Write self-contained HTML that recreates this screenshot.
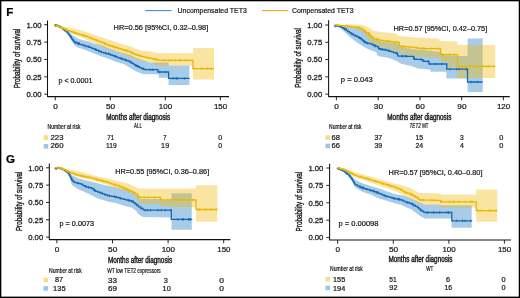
<!DOCTYPE html>
<html><head><meta charset="utf-8"><title>Figure</title>
<style>html,body{margin:0;padding:0;background:#fff;}svg{will-change:transform;}body{width:520px;height:298px;overflow:hidden;position:relative;font-family:"Liberation Sans", sans-serif;}</style>
</head><body>
<svg width="520" height="298" viewBox="0 0 520 298" style="position:absolute;left:0;top:0">
<g font-family='"Liberation Sans", sans-serif' stroke-linejoin="round">
<rect x="0" y="0" width="520" height="298" fill="#fff"/>
<polygon points="54.60,24.40 62.40,27.00 67.00,29.00 69.70,32.80 72.60,35.20 77.80,38.60 84.30,40.60 89.20,41.60 94.00,43.50 98.90,44.50 103.80,46.10 108.70,48.20 116.40,50.90 124.10,53.20 130.00,54.70 135.70,57.80 143.40,60.40 150.00,62.50 168.60,62.50 168.60,65.60 189.40,65.60 189.40,84.90 168.60,84.90 168.60,77.80 158.90,77.80 158.90,74.30 143.40,74.30 135.70,71.20 128.00,66.50 124.10,64.30 116.40,62.00 108.70,58.80 101.00,56.30 93.20,53.20 85.50,50.10 77.80,47.50 74.60,45.50 71.60,41.00 67.00,33.00 62.40,29.50 54.60,25.00" fill="rgb(20,117,193)" fill-opacity="0.37" stroke="none"/>
<polygon points="54.60,24.40 62.40,26.20 77.80,29.60 93.20,34.20 108.70,39.80 124.10,44.70 130.00,45.90 135.70,49.10 143.40,50.70 151.20,51.60 157.30,53.10 192.90,53.10 192.90,48.00 214.00,48.00 214.00,79.40 192.90,79.40 192.90,65.60 157.30,65.60 151.20,62.50 139.60,60.50 128.00,56.30 116.50,51.50 105.00,48.00 93.20,42.50 77.80,36.00 62.40,29.50 54.60,25.20" fill="rgb(241,182,0)" fill-opacity="0.37" stroke="none"/>
<circle cx="55.70" cy="25.60" r="1.2" fill="#1467B5"/>
<polyline points="54.60,24.70 54.60,25.00 56.40,25.00 56.40,25.60 58.20,25.60 58.20,26.20 60.00,26.20 60.00,26.50 60.00,27.40 62.40,27.40 62.40,28.30 62.40,28.80 63.70,28.80 63.70,29.80 65.00,29.80 65.00,30.30 65.00,30.85 66.25,30.85 66.25,31.95 67.50,31.95 67.50,32.50 67.50,33.17 68.60,33.17 68.60,34.53 69.70,34.53 69.70,35.20 69.70,35.93 70.67,35.93 70.67,37.40 71.63,37.40 71.63,38.87 72.60,38.87 72.60,39.60 72.60,40.20 73.60,40.20 73.60,41.40 74.60,41.40 74.60,42.00 74.60,42.50 77.05,42.50 77.05,43.50 79.50,43.50 79.50,44.00 79.50,44.38 81.90,44.38 81.90,45.12 84.30,45.12 84.30,45.50 84.30,45.85 86.75,45.85 86.75,46.55 89.20,46.55 89.20,46.90 89.20,47.40 91.60,47.40 91.60,48.40 94.00,48.40 94.00,48.90 94.00,49.38 96.45,49.38 96.45,50.32 98.90,50.32 98.90,50.80 98.90,51.30 101.35,51.30 101.35,52.30 103.80,52.30 103.80,52.80 103.80,53.07 106.20,53.07 106.20,53.62 108.60,53.62 108.60,53.90 108.60,54.26 110.55,54.26 110.55,54.99 112.50,54.99 112.50,55.71 114.45,55.71 114.45,56.44 116.40,56.44 116.40,56.80 116.40,57.14 118.33,57.14 118.33,57.81 120.25,57.81 120.25,58.49 122.17,58.49 122.17,59.16 124.10,59.16 124.10,59.50 124.10,59.83 126.07,59.83 126.07,60.50 128.03,60.50 128.03,61.17 130.00,61.17 130.00,61.50 130.00,62.13 131.90,62.13 131.90,63.40 133.80,63.40 133.80,64.67 135.70,64.67 135.70,65.30 135.70,65.77 137.62,65.77 137.62,66.72 139.55,66.72 139.55,67.67 141.47,67.67 141.47,68.62 143.40,68.62 143.40,69.10 143.40,69.25 144.95,69.25 144.95,69.55 146.50,69.55 146.50,69.70 157.90,69.70 157.90,72.00 168.60,72.00 168.60,78.40 189.60,78.40" fill="none" stroke="#1467B5" stroke-width="1.3" stroke-linejoin="miter" stroke-miterlimit="2"/>
<path d="M57.60,24.35v2.5 M64.45,28.55v2.5 M71.52,36.15v2.5 M75.90,41.25v2.5 M78.50,42.25v2.5 M79.00,42.25v2.5 M84.80,44.60v2.5 M89.06,45.30v2.5 M95.64,48.12v2.5 M99.13,50.05v2.5 M105.79,51.82v2.5 M108.47,52.38v2.5 M115.38,55.19v2.5 M121.72,57.24v2.5 M125.54,58.58v2.5 M130.34,60.88v2.5 M136.30,64.52v2.5 M138.34,65.47v2.5 M143.27,67.38v2.5 M150.21,68.45v2.5 M152.84,68.45v2.5 M159.76,70.75v2.5 M165.75,70.75v2.5 M173.00,77.15v2.5 M176.19,77.15v2.5 M177.43,77.15v2.5 M184.34,77.15v2.5" stroke="#1467B5" stroke-width="0.9" fill="none"/>
<polyline points="54.60,24.70 54.60,25.14 56.55,25.14 56.55,26.01 58.50,26.01 58.50,26.89 60.45,26.89 60.45,27.76 62.40,27.76 62.40,28.20 62.40,28.57 64.33,28.57 64.33,29.32 66.25,29.32 66.25,30.07 68.17,30.07 68.17,30.82 70.10,30.82 70.10,31.20 70.10,31.51 72.02,31.51 72.02,32.14 73.95,32.14 73.95,32.76 75.88,32.76 75.88,33.39 77.80,33.39 77.80,33.70 77.80,33.99 79.72,33.99 79.72,34.56 81.65,34.56 81.65,35.14 83.58,35.14 83.58,35.71 85.50,35.71 85.50,36.00 85.50,36.39 87.42,36.39 87.42,37.16 89.35,37.16 89.35,37.94 91.28,37.94 91.28,38.71 93.20,38.71 93.20,39.10 93.20,39.46 95.15,39.46 95.15,40.19 97.10,40.19 97.10,40.91 99.05,40.91 99.05,41.64 101.00,41.64 101.00,42.00 101.00,42.40 102.92,42.40 102.92,43.20 104.85,43.20 104.85,44.00 106.78,44.00 106.78,44.80 108.70,44.80 108.70,45.20 108.70,45.48 110.62,45.48 110.62,46.02 112.55,46.02 112.55,46.58 114.48,46.58 114.48,47.12 116.40,47.12 116.40,47.40 116.40,47.73 118.33,47.73 118.33,48.38 120.25,48.38 120.25,49.02 122.17,49.02 122.17,49.67 124.10,49.67 124.10,50.00 124.10,50.27 126.07,50.27 126.07,50.80 128.03,50.80 128.03,51.33 130.00,51.33 130.00,51.60 130.00,52.08 131.90,52.08 131.90,53.05 133.80,53.05 133.80,54.02 135.70,54.02 135.70,54.50 135.70,54.77 137.62,54.77 137.62,55.33 139.55,55.33 139.55,55.88 141.47,55.88 141.47,56.43 143.40,56.43 143.40,56.70 143.40,56.90 145.35,56.90 145.35,57.30 147.30,57.30 147.30,57.70 149.25,57.70 149.25,58.10 151.20,58.10 151.20,58.30 151.20,58.53 153.00,58.53 153.00,59.00 154.80,59.00 154.80,59.47 156.60,59.47 156.60,59.70 156.60,60.00 158.90,60.00 158.90,60.30 192.90,60.30 192.90,68.70 214.00,68.70" fill="none" stroke="#E7B800" stroke-width="1.3" stroke-linejoin="miter" stroke-miterlimit="2"/>
<path d="M57.60,24.76v2.5 M65.82,28.07v2.5 M66.42,28.82v2.5 M72.80,30.89v2.5 M74.57,31.51v2.5 M82.96,33.89v2.5 M83.59,34.46v2.5 M91.13,36.69v2.5 M97.08,38.94v2.5 M104.44,41.95v2.5 M112.94,45.33v2.5 M115.35,45.88v2.5 M118.56,47.12v2.5 M124.72,49.02v2.5 M127.47,49.55v2.5 M130.08,50.83v2.5 M132.40,51.80v2.5 M139.77,54.62v2.5 M147.26,56.05v2.5 M154.14,57.75v2.5 M156.43,58.22v2.5 M164.33,59.05v2.5 M168.92,59.05v2.5 M171.27,59.05v2.5 M175.42,59.05v2.5 M179.28,59.05v2.5 M180.41,59.05v2.5 M185.43,59.05v2.5 M188.80,59.05v2.5 M193.86,67.45v2.5 M201.80,67.45v2.5 M207.47,67.45v2.5 M211.21,67.45v2.5" stroke="#E7B800" stroke-width="0.9" fill="none"/>
<polygon points="334.40,25.20 340.00,26.20 345.00,26.80 350.00,27.40 354.00,28.10 359.00,28.60 362.00,29.50 364.00,31.00 367.00,33.00 369.00,34.50 371.00,37.00 374.00,39.30 377.00,40.30 380.00,41.00 386.00,42.20 391.00,42.50 396.00,43.30 399.50,44.00 400.00,46.20 414.50,49.60 429.00,50.60 440.00,52.00 446.00,55.30 457.50,56.00 467.60,56.00 467.60,38.60 482.70,38.60 482.70,91.90 467.60,91.90 467.60,78.60 446.40,78.60 446.40,71.80 431.00,71.80 430.00,69.50 418.00,68.40 411.00,66.00 401.00,63.80 398.00,61.70 393.00,59.40 388.00,57.70 378.00,56.00 376.00,52.00 370.00,50.00 365.00,47.50 360.00,44.50 355.00,41.00 350.00,37.00 345.00,32.50 340.00,28.00 334.40,25.50" fill="rgb(20,117,193)" fill-opacity="0.37" stroke="none"/>
<polygon points="334.40,24.40 360.00,24.40 364.00,25.40 369.00,27.50 373.50,31.00 378.00,31.60 384.00,32.30 396.00,33.50 399.00,36.00 415.00,37.50 438.60,38.50 440.50,41.00 457.50,41.50 457.50,45.00 495.20,45.00 495.20,77.90 457.50,77.90 457.50,67.50 446.50,67.50 446.50,62.00 440.50,62.00 440.50,58.50 429.00,57.40 414.50,56.40 405.00,55.00 395.00,51.00 386.00,47.50 378.00,47.00 372.00,44.00 368.00,40.00 364.00,33.00 360.00,29.50 352.00,28.00 345.00,26.80 334.40,25.60" fill="rgb(241,182,0)" fill-opacity="0.37" stroke="none"/>
<circle cx="335.50" cy="26.10" r="1.2" fill="#1467B5"/>
<polyline points="334.40,25.20 334.40,25.38 336.27,25.38 336.27,25.75 338.13,25.75 338.13,26.12 340.00,26.12 340.00,26.30 340.00,26.68 341.50,26.68 341.50,27.43 343.00,27.43 343.00,27.80 343.00,28.27 344.50,28.27 344.50,29.23 346.00,29.23 346.00,29.70 346.00,30.32 347.75,30.32 347.75,31.58 349.50,31.58 349.50,32.20 349.50,32.80 351.40,32.80 351.40,34.00 353.30,34.00 353.30,34.60 353.30,35.08 355.25,35.08 355.25,36.02 357.20,36.02 357.20,36.50 357.20,36.88 358.70,36.88 358.70,37.62 360.20,37.62 360.20,38.00 360.20,38.60 361.65,38.60 361.65,39.80 363.10,39.80 363.10,40.40 363.10,41.02 364.55,41.02 364.55,42.27 366.00,42.27 366.00,42.90 366.00,43.00 367.50,43.00 367.50,43.20 369.00,43.20 369.00,43.30 369.00,43.60 371.00,43.60 371.00,44.20 373.00,44.20 373.00,44.50 373.00,45.25 375.00,45.25 375.00,46.00 375.00,46.12 376.50,46.12 376.50,46.38 378.00,46.38 378.00,46.50 378.00,47.10 378.50,47.10 378.50,48.30 379.00,48.30 379.00,48.90 379.00,49.02 380.75,49.02 380.75,49.27 382.50,49.27 382.50,49.52 384.25,49.52 384.25,49.77 386.00,49.77 386.00,49.90 386.00,50.17 387.80,50.17 387.80,50.73 389.60,50.73 389.60,51.00 389.60,51.33 391.55,51.33 391.55,51.97 393.50,51.97 393.50,52.30 393.50,52.55 395.45,52.55 395.45,53.05 397.40,53.05 397.40,53.30 397.40,53.97 397.70,53.97 397.70,55.33 398.00,55.33 398.00,56.00 398.00,56.03 399.94,56.03 399.94,56.09 401.88,56.09 401.88,56.16 403.81,56.16 403.81,56.22 405.75,56.22 405.75,56.28 407.69,56.28 407.69,56.34 409.62,56.34 409.62,56.41 411.56,56.41 411.56,56.47 413.50,56.47 413.50,56.50 413.50,57.17 413.90,57.17 413.90,58.53 414.30,58.53 414.30,59.20 414.30,59.25 416.48,59.25 416.48,59.35 418.65,59.35 418.65,59.45 420.82,59.45 420.82,59.55 423.00,59.55 423.00,59.60 423.00,60.40 423.10,60.40 423.10,61.20 423.10,61.25 425.03,61.25 425.03,61.35 426.97,61.35 426.97,61.45 428.90,61.45 428.90,61.50 428.90,64.00 446.80,64.00 446.80,69.20 467.50,69.20 467.50,82.00 482.70,82.00" fill="none" stroke="#1467B5" stroke-width="1.3" stroke-linejoin="miter" stroke-miterlimit="2"/>
<path d="M337.40,24.50v2.5 M339.97,24.87v2.5 M345.95,27.98v2.5 M351.93,32.75v2.5 M359.22,36.38v2.5 M361.21,37.35v2.5 M363.55,39.77v2.5 M365.23,41.02v2.5 M367.53,41.95v2.5 M373.90,44.00v2.5 M375.44,44.88v2.5 M380.19,47.77v2.5 M382.41,48.02v2.5 M385.26,48.52v2.5 M389.22,49.48v2.5 M396.42,51.80v2.5 M401.78,54.84v2.5 M402.40,54.91v2.5 M405.11,54.97v2.5 M406.78,55.03v2.5 M414.25,57.28v2.5 M421.23,58.30v2.5 M428.18,60.20v2.5 M435.29,62.75v2.5 M441.75,62.75v2.5 M449.84,67.95v2.5 M456.69,67.95v2.5 M459.24,67.95v2.5 M466.54,67.95v2.5 M470.94,80.75v2.5 M477.48,80.75v2.5" stroke="#1467B5" stroke-width="0.9" fill="none"/>
<polyline points="334.40,25.00 334.40,25.07 336.27,25.07 336.27,25.20 338.13,25.20 338.13,25.33 340.00,25.33 340.00,25.40 340.00,25.55 342.50,25.55 342.50,25.85 345.00,25.85 345.00,26.00 345.00,26.15 347.50,26.15 347.50,26.45 350.00,26.45 350.00,26.60 350.00,26.73 352.00,26.73 352.00,26.98 354.00,26.98 354.00,27.10 354.00,27.20 356.00,27.20 356.00,27.40 358.00,27.40 358.00,27.60 360.00,27.60 360.00,27.70 360.00,28.60 362.90,28.60 362.90,29.50 362.90,30.07 364.35,30.07 364.35,31.23 365.80,31.23 365.80,31.80 365.80,32.65 368.70,32.65 368.70,33.50 368.70,34.23 370.10,34.23 370.10,35.67 371.50,35.67 371.50,36.40 371.50,36.98 372.95,36.98 372.95,38.12 374.40,38.12 374.40,38.70 374.40,39.15 377.30,39.15 377.30,39.60 377.30,39.85 380.20,39.85 380.20,40.10 380.20,40.40 383.10,40.40 383.10,40.70 383.10,40.80 385.03,40.80 385.03,41.00 386.97,41.00 386.97,41.20 388.90,41.20 388.90,41.30 388.90,41.41 390.67,41.41 390.67,41.64 392.45,41.64 392.45,41.86 394.23,41.86 394.23,42.09 396.00,42.09 396.00,42.20 396.00,42.25 397.65,42.25 397.65,42.35 399.30,42.35 399.30,42.40 399.30,45.80 399.30,45.92 401.20,45.92 401.20,46.15 403.10,46.15 403.10,46.38 405.00,46.38 405.00,46.50 405.00,46.62 407.50,46.62 407.50,46.88 410.00,46.88 410.00,47.00 410.00,47.15 412.50,47.15 412.50,47.45 415.00,47.45 415.00,47.60 415.00,47.83 417.50,47.83 417.50,48.27 420.00,48.27 420.00,48.50 420.00,48.51 422.05,48.51 422.05,48.53 424.10,48.53 424.10,48.55 426.15,48.55 426.15,48.57 428.20,48.57 428.20,48.59 430.25,48.59 430.25,48.61 432.30,48.61 432.30,48.63 434.35,48.63 434.35,48.65 436.40,48.65 436.40,48.67 438.45,48.67 438.45,48.69 440.50,48.69 440.50,48.70 440.50,54.60 440.50,54.61 442.62,54.61 442.62,54.62 444.75,54.62 444.75,54.63 446.88,54.63 446.88,54.64 449.00,54.64 449.00,54.66 451.12,54.66 451.12,54.67 453.25,54.67 453.25,54.68 455.38,54.68 455.38,54.69 457.50,54.69 457.50,54.70 457.50,66.40 495.20,66.40" fill="none" stroke="#E7B800" stroke-width="1.3" stroke-linejoin="miter" stroke-miterlimit="2"/>
<path d="M337.40,23.95v2.5 M345.57,24.90v2.5 M347.19,24.90v2.5 M347.88,25.20v2.5 M356.37,26.15v2.5 M358.34,26.35v2.5 M359.81,26.35v2.5 M365.52,29.98v2.5 M368.78,32.98v2.5 M376.40,37.90v2.5 M378.75,38.60v2.5 M386.93,39.75v2.5 M389.98,40.16v2.5 M395.29,40.84v2.5 M403.25,45.13v2.5 M409.23,45.62v2.5 M417.12,46.58v2.5 M423.29,47.28v2.5 M424.17,47.30v2.5 M431.73,47.36v2.5 M436.94,47.42v2.5 M439.93,47.44v2.5 M441.95,53.36v2.5 M449.25,53.41v2.5 M454.41,53.43v2.5 M462.41,65.15v2.5 M469.11,65.15v2.5 M477.29,65.15v2.5 M482.33,65.15v2.5 M488.41,65.15v2.5 M493.81,65.15v2.5" stroke="#E7B800" stroke-width="0.9" fill="none"/>
<polygon points="55.00,167.40 62.40,168.50 67.00,170.50 69.40,172.50 71.80,175.00 77.60,177.90 83.50,179.70 90.00,181.30 97.80,183.20 104.00,185.00 112.00,186.60 119.00,188.00 125.50,189.50 131.60,192.00 137.50,195.50 139.00,198.90 160.50,198.90 160.50,200.50 171.50,200.50 171.50,193.30 191.80,193.30 191.80,229.70 171.50,229.70 171.50,217.40 143.00,217.10 138.40,214.20 136.00,210.70 131.60,207.40 125.80,206.20 119.90,204.40 116.00,203.00 109.50,202.00 103.60,200.20 97.80,198.40 90.00,194.50 83.50,191.40 77.60,189.10 71.80,185.00 70.60,180.30 67.00,172.50 62.40,170.00 55.00,168.00" fill="rgb(20,117,193)" fill-opacity="0.37" stroke="none"/>
<polygon points="55.00,167.40 62.40,167.90 71.80,169.70 80.00,171.50 88.00,173.80 97.80,176.50 109.50,179.00 116.00,180.80 125.80,182.70 131.60,185.00 137.50,188.00 139.00,188.60 196.00,188.60 196.00,185.20 217.20,185.20 217.20,221.70 196.00,221.70 196.00,207.20 171.50,207.00 160.50,206.00 160.50,203.80 139.00,203.80 137.50,196.80 125.80,190.90 116.00,187.90 109.50,185.50 97.80,182.00 90.00,179.70 83.50,178.50 77.60,177.00 69.40,173.00 62.40,169.80 55.00,168.00" fill="rgb(241,182,0)" fill-opacity="0.37" stroke="none"/>
<circle cx="56.10" cy="168.60" r="1.2" fill="#1467B5"/>
<polyline points="55.00,167.70 55.00,167.75 57.50,167.75 57.50,167.85 60.00,167.85 60.00,167.90 60.00,168.50 62.35,168.50 62.35,169.70 64.70,169.70 64.70,170.30 64.70,170.88 66.45,170.88 66.45,172.03 68.20,172.03 68.20,172.60 68.20,173.30 69.00,173.30 69.00,174.70 69.80,174.70 69.80,176.10 70.60,176.10 70.60,176.80 70.60,177.53 71.20,177.53 71.20,178.97 71.80,178.97 71.80,179.70 71.80,180.27 72.95,180.27 72.95,181.43 74.10,181.43 74.10,182.00 74.10,182.30 75.85,182.30 75.85,182.90 77.60,182.90 77.60,183.20 77.60,183.35 79.40,183.35 79.40,183.65 81.20,183.65 81.20,183.80 81.20,184.40 82.95,184.40 82.95,185.60 84.70,185.60 84.70,186.20 84.70,186.47 86.45,186.47 86.45,187.03 88.20,187.03 88.20,187.30 88.20,187.45 90.05,187.45 90.05,187.75 91.90,187.75 91.90,187.90 91.90,188.62 93.65,188.62 93.65,190.08 95.40,190.08 95.40,190.80 95.40,191.25 97.75,191.25 97.75,192.15 100.10,192.15 100.10,192.60 100.10,193.03 102.45,193.03 102.45,193.88 104.80,193.88 104.80,194.30 104.80,194.75 107.15,194.75 107.15,195.65 109.50,195.65 109.50,196.10 109.50,196.22 111.67,196.22 111.67,196.45 113.83,196.45 113.83,196.68 116.00,196.68 116.00,196.80 116.00,197.10 117.95,197.10 117.95,197.70 119.90,197.70 119.90,198.00 119.90,198.28 121.87,198.28 121.87,198.85 123.83,198.85 123.83,199.42 125.80,199.42 125.80,199.70 125.80,199.90 127.73,199.90 127.73,200.30 129.67,200.30 129.67,200.70 131.60,200.70 131.60,200.90 131.60,201.50 133.40,201.50 133.40,202.70 135.20,202.70 135.20,203.30 135.20,203.98 136.80,203.98 136.80,205.32 138.40,205.32 138.40,206.00 138.40,206.85 140.70,206.85 140.70,207.70 140.70,208.30 143.00,208.30 143.00,208.90 143.00,209.55 144.20,209.55 144.20,210.20 171.30,210.20 171.30,219.30 192.20,219.30" fill="none" stroke="#1467B5" stroke-width="1.3" stroke-linejoin="miter" stroke-miterlimit="2"/>
<path d="M58.00,166.60v2.5 M65.75,169.62v2.5 M71.74,177.72v2.5 M78.37,182.10v2.5 M86.10,185.22v2.5 M88.68,186.20v2.5 M94.27,188.83v2.5 M102.01,191.78v2.5 M109.49,194.40v2.5 M114.57,195.43v2.5 M116.42,195.85v2.5 M120.22,197.03v2.5 M128.67,199.05v2.5 M129.99,199.45v2.5 M133.05,200.25v2.5 M141.15,207.05v2.5 M145.24,208.95v2.5 M147.41,208.95v2.5 M150.45,208.95v2.5 M158.21,208.95v2.5 M161.40,208.95v2.5 M165.32,208.95v2.5 M170.84,208.95v2.5 M177.78,218.05v2.5 M182.22,218.05v2.5 M183.37,218.05v2.5 M188.46,218.05v2.5 M189.24,218.05v2.5 M190.50,218.05v2.5" stroke="#1467B5" stroke-width="0.9" fill="none"/>
<polyline points="55.00,167.70 55.00,167.75 57.50,167.75 57.50,167.85 60.00,167.85 60.00,167.90 60.00,168.30 62.00,168.30 62.00,169.10 64.00,169.10 64.00,169.50 64.00,169.92 65.80,169.92 65.80,170.75 67.60,170.75 67.60,171.58 69.40,171.58 69.40,172.00 69.40,172.45 71.70,172.45 71.70,173.35 74.00,173.35 74.00,173.80 74.00,174.10 75.80,174.10 75.80,174.70 77.60,174.70 77.60,175.00 77.60,175.20 79.57,175.20 79.57,175.60 81.53,175.60 81.53,176.00 83.50,176.00 83.50,176.20 83.50,176.40 85.67,176.40 85.67,176.80 87.83,176.80 87.83,177.20 90.00,177.20 90.00,177.40 90.00,177.68 91.95,177.68 91.95,178.22 93.90,178.22 93.90,178.78 95.85,178.78 95.85,179.32 97.80,179.32 97.80,179.60 97.80,179.85 99.75,179.85 99.75,180.35 101.70,180.35 101.70,180.85 103.65,180.85 103.65,181.35 105.60,181.35 105.60,181.85 107.55,181.85 107.55,182.35 109.50,182.35 109.50,182.60 109.50,183.07 111.75,183.07 111.75,184.03 114.00,184.03 114.00,184.50 114.00,184.78 115.97,184.78 115.97,185.35 117.93,185.35 117.93,185.92 119.90,185.92 119.90,186.20 119.90,186.60 121.87,186.60 121.87,187.40 123.83,187.40 123.83,188.20 125.80,188.20 125.80,188.60 125.80,189.08 127.73,189.08 127.73,190.05 129.67,190.05 129.67,191.02 131.60,191.02 131.60,191.50 131.60,191.97 133.57,191.97 133.57,192.90 135.53,192.90 135.53,193.83 137.50,193.83 137.50,194.30 137.50,195.05 137.95,195.05 137.95,196.55 138.40,196.55 138.40,197.30 160.40,197.30 160.40,199.90 196.00,199.90 196.00,209.50 217.20,209.50" fill="none" stroke="#E7B800" stroke-width="1.3" stroke-linejoin="miter" stroke-miterlimit="2"/>
<path d="M58.00,166.60v2.5 M62.88,167.85v2.5 M66.15,169.50v2.5 M73.41,172.10v2.5 M76.22,173.45v2.5 M80.80,174.35v2.5 M84.05,175.15v2.5 M87.88,175.95v2.5 M96.17,178.07v2.5 M97.50,178.07v2.5 M101.55,179.10v2.5 M103.85,180.10v2.5 M107.15,180.60v2.5 M115.64,183.53v2.5 M118.77,184.67v2.5 M124.14,186.95v2.5 M127.99,188.80v2.5 M134.34,191.65v2.5 M138.41,196.05v2.5 M140.28,196.05v2.5 M144.25,196.05v2.5 M148.01,196.05v2.5 M154.86,196.05v2.5 M159.86,196.05v2.5 M161.93,198.65v2.5 M167.82,198.65v2.5 M170.71,198.65v2.5 M175.30,198.65v2.5 M177.56,198.65v2.5 M181.35,198.65v2.5 M188.13,198.65v2.5 M192.76,198.65v2.5 M199.28,208.25v2.5 M205.83,208.25v2.5 M211.03,208.25v2.5 M216.69,208.25v2.5" stroke="#E7B800" stroke-width="0.9" fill="none"/>
<polygon points="337.40,167.60 344.40,170.50 350.50,174.40 355.20,179.80 362.90,183.60 370.60,185.90 378.30,188.30 393.80,193.70 405.00,196.10 411.20,198.40 417.40,201.50 420.40,203.00 425.10,204.60 440.60,204.60 440.60,205.30 471.70,205.30 471.70,227.70 451.60,227.70 451.60,218.50 425.10,218.50 420.40,216.20 411.20,209.20 405.00,206.90 401.50,205.00 393.80,202.90 378.30,198.30 370.60,194.40 362.90,192.10 355.20,187.50 350.50,178.20 344.40,172.50 337.40,168.30" fill="rgb(20,117,193)" fill-opacity="0.37" stroke="none"/>
<polygon points="337.40,167.60 344.40,168.50 350.50,170.50 356.70,172.80 362.90,174.40 378.30,178.70 393.80,183.60 405.00,186.00 411.20,188.40 419.70,193.00 440.60,193.40 440.60,194.50 476.20,194.50 476.20,189.40 497.20,189.40 497.20,221.80 476.20,221.80 476.20,207.60 440.60,207.60 440.60,205.00 419.70,204.00 409.20,197.50 405.00,196.00 393.80,190.60 378.30,185.20 362.90,179.80 356.70,178.20 350.50,175.10 337.40,168.30" fill="rgb(241,182,0)" fill-opacity="0.37" stroke="none"/>
<circle cx="338.50" cy="168.80" r="1.2" fill="#1467B5"/>
<polyline points="337.40,167.90 337.40,168.33 339.15,168.33 339.15,169.18 340.90,169.18 340.90,170.03 342.65,170.03 342.65,170.88 344.40,170.88 344.40,171.30 344.40,171.93 345.93,171.93 345.93,173.20 347.47,173.20 347.47,174.47 349.00,174.47 349.00,175.10 349.00,175.75 350.03,175.75 350.03,177.05 351.07,177.05 351.07,178.35 352.10,178.35 352.10,179.00 352.10,179.68 352.88,179.68 352.88,181.03 353.65,181.03 353.65,182.38 354.43,182.38 354.43,183.72 355.20,183.72 355.20,184.40 355.20,184.97 357.50,184.97 357.50,186.12 359.80,186.12 359.80,186.70 359.80,187.08 361.87,187.08 361.87,187.85 363.93,187.85 363.93,188.62 366.00,188.62 366.00,189.00 366.00,189.27 368.07,189.27 368.07,189.80 370.13,189.80 370.13,190.33 372.20,190.33 372.20,190.60 372.20,190.98 374.23,190.98 374.23,191.75 376.27,191.75 376.27,192.52 378.30,192.52 378.30,192.90 378.30,193.29 380.25,193.29 380.25,194.06 382.20,194.06 382.20,194.84 384.15,194.84 384.15,195.61 386.10,195.61 386.10,196.00 386.10,196.29 388.03,196.29 388.03,196.86 389.95,196.86 389.95,197.44 391.88,197.44 391.88,198.01 393.80,198.01 393.80,198.30 393.80,198.49 395.73,198.49 395.73,198.86 397.65,198.86 397.65,199.24 399.57,199.24 399.57,199.61 401.50,199.61 401.50,199.80 401.50,200.23 403.25,200.23 403.25,201.07 405.00,201.07 405.00,201.50 405.00,201.83 407.07,201.83 407.07,202.50 409.13,202.50 409.13,203.17 411.20,203.17 411.20,203.50 411.20,204.07 413.27,204.07 413.27,205.20 415.33,205.20 415.33,206.33 417.40,206.33 417.40,206.90 417.40,207.53 418.93,207.53 418.93,208.80 420.47,208.80 420.47,210.07 422.00,210.07 422.00,210.70 422.00,211.15 423.55,211.15 423.55,212.05 425.10,212.05 425.10,212.50 451.80,212.50 451.80,220.80 472.20,220.80" fill="none" stroke="#1467B5" stroke-width="1.3" stroke-linejoin="miter" stroke-miterlimit="2"/>
<path d="M340.40,167.93v2.5 M346.09,171.95v2.5 M352.20,178.43v2.5 M360.36,185.83v2.5 M362.43,186.60v2.5 M363.45,186.60v2.5 M370.54,189.08v2.5 M373.71,189.73v2.5 M377.19,191.27v2.5 M384.21,194.36v2.5 M386.17,195.04v2.5 M393.95,197.24v2.5 M398.38,197.99v2.5 M399.45,197.99v2.5 M407.29,201.25v2.5 M412.38,202.82v2.5 M413.51,203.95v2.5 M420.72,208.82v2.5 M427.41,211.25v2.5 M433.84,211.25v2.5 M439.60,211.25v2.5 M448.04,211.25v2.5 M448.63,211.25v2.5 M456.93,219.55v2.5 M462.57,219.55v2.5 M465.09,219.55v2.5 M470.49,219.55v2.5" stroke="#1467B5" stroke-width="0.9" fill="none"/>
<polyline points="337.40,167.90 337.40,168.12 339.15,168.12 339.15,168.57 340.90,168.57 340.90,169.03 342.65,169.03 342.65,169.47 344.40,169.47 344.40,169.70 344.40,170.22 346.43,170.22 346.43,171.25 348.47,171.25 348.47,172.28 350.50,172.28 350.50,172.80 350.50,173.32 352.57,173.32 352.57,174.35 354.63,174.35 354.63,175.38 356.70,175.38 356.70,175.90 356.70,176.15 358.77,176.15 358.77,176.65 360.83,176.65 360.83,177.15 362.90,177.15 362.90,177.40 362.90,177.70 364.82,177.70 364.82,178.30 366.75,178.30 366.75,178.90 368.68,178.90 368.68,179.50 370.60,179.50 370.60,179.80 370.60,180.09 372.53,180.09 372.53,180.66 374.45,180.66 374.45,181.24 376.38,181.24 376.38,181.81 378.30,181.81 378.30,182.10 378.30,182.39 380.25,182.39 380.25,182.96 382.20,182.96 382.20,183.54 384.15,183.54 384.15,184.11 386.10,184.11 386.10,184.40 386.10,184.69 388.03,184.69 388.03,185.26 389.95,185.26 389.95,185.84 391.88,185.84 391.88,186.41 393.80,186.41 393.80,186.70 393.80,187.09 395.73,187.09 395.73,187.86 397.65,187.86 397.65,188.64 399.57,188.64 399.57,189.41 401.50,189.41 401.50,189.80 401.50,190.40 403.25,190.40 403.25,191.60 405.00,191.60 405.00,192.20 405.00,192.53 407.07,192.53 407.07,193.20 409.13,193.20 409.13,193.87 411.20,193.87 411.20,194.20 411.20,194.77 413.27,194.77 413.27,195.90 415.33,195.90 415.33,197.03 417.40,197.03 417.40,197.60 417.40,198.20 418.55,198.20 418.55,199.40 419.70,199.40 419.70,200.00 419.70,200.02 421.79,200.02 421.79,200.06 423.88,200.06 423.88,200.10 425.97,200.10 425.97,200.14 428.06,200.14 428.06,200.18 430.15,200.18 430.15,200.22 432.24,200.22 432.24,200.26 434.33,200.26 434.33,200.30 436.42,200.30 436.42,200.34 438.51,200.34 438.51,200.38 440.60,200.38 440.60,200.40 440.60,201.80 476.20,201.80 476.20,210.70 497.20,210.70" fill="none" stroke="#E7B800" stroke-width="1.3" stroke-linejoin="miter" stroke-miterlimit="2"/>
<path d="M340.40,167.32v2.5 M343.53,168.22v2.5 M351.90,172.07v2.5 M360.07,175.40v2.5 M367.92,177.65v2.5 M374.74,179.99v2.5 M382.24,182.29v2.5 M382.74,182.29v2.5 M388.25,184.01v2.5 M390.74,184.59v2.5 M397.08,186.61v2.5 M401.04,188.16v2.5 M406.02,191.28v2.5 M410.86,192.62v2.5 M415.97,195.78v2.5 M423.09,198.81v2.5 M431.44,198.97v2.5 M434.71,199.05v2.5 M441.66,200.55v2.5 M449.27,200.55v2.5 M452.91,200.55v2.5 M454.39,200.55v2.5 M458.87,200.55v2.5 M465.49,200.55v2.5 M470.18,200.55v2.5 M472.16,200.55v2.5 M478.30,209.45v2.5 M481.40,209.45v2.5 M488.99,209.45v2.5 M490.84,209.45v2.5 M496.09,209.45v2.5" stroke="#E7B800" stroke-width="0.9" fill="none"/>
<path d="M47.5,20.4 V96.6 H229.0" fill="none" stroke="#111" stroke-width="1.05"/>
<line x1="44.2" y1="24.70" x2="47.5" y2="24.70" stroke="#111" stroke-width="0.9"/>
<text x="41.5" y="27.55" font-size="7.9" text-anchor="end" textLength="15.0" lengthAdjust="spacingAndGlyphs" fill="#1a1a1a" stroke="#1a1a1a" stroke-width="0.28">1.00</text>
<line x1="44.2" y1="42.08" x2="47.5" y2="42.08" stroke="#111" stroke-width="0.9"/>
<text x="41.5" y="44.93" font-size="7.9" text-anchor="end" textLength="15.0" lengthAdjust="spacingAndGlyphs" fill="#1a1a1a" stroke="#1a1a1a" stroke-width="0.28">0.75</text>
<line x1="44.2" y1="59.45" x2="47.5" y2="59.45" stroke="#111" stroke-width="0.9"/>
<text x="41.5" y="62.30" font-size="7.9" text-anchor="end" textLength="15.0" lengthAdjust="spacingAndGlyphs" fill="#1a1a1a" stroke="#1a1a1a" stroke-width="0.28">0.50</text>
<line x1="44.2" y1="76.83" x2="47.5" y2="76.83" stroke="#111" stroke-width="0.9"/>
<text x="41.5" y="79.67" font-size="7.9" text-anchor="end" textLength="15.0" lengthAdjust="spacingAndGlyphs" fill="#1a1a1a" stroke="#1a1a1a" stroke-width="0.28">0.25</text>
<line x1="44.2" y1="94.20" x2="47.5" y2="94.20" stroke="#111" stroke-width="0.9"/>
<text x="41.5" y="97.05" font-size="7.9" text-anchor="end" textLength="15.0" lengthAdjust="spacingAndGlyphs" fill="#1a1a1a" stroke="#1a1a1a" stroke-width="0.28">0.00</text>
<line x1="55.3" y1="96.6" x2="55.3" y2="100.3" stroke="#111" stroke-width="0.9"/>
<text x="55.50" y="108.70" font-size="7.3" text-anchor="middle" textLength="4.6" lengthAdjust="spacingAndGlyphs" fill="#1a1a1a" stroke="#1a1a1a" stroke-width="0.22">0</text>
<line x1="110.3" y1="96.6" x2="110.3" y2="100.3" stroke="#111" stroke-width="0.9"/>
<text x="110.50" y="108.70" font-size="7.3" text-anchor="middle" textLength="9.2" lengthAdjust="spacingAndGlyphs" fill="#1a1a1a" stroke="#1a1a1a" stroke-width="0.22">50</text>
<line x1="165.3" y1="96.6" x2="165.3" y2="100.3" stroke="#111" stroke-width="0.9"/>
<text x="165.50" y="108.70" font-size="7.3" text-anchor="middle" textLength="13.3" lengthAdjust="spacingAndGlyphs" fill="#1a1a1a" stroke="#1a1a1a" stroke-width="0.22">100</text>
<line x1="220.35" y1="96.6" x2="220.35" y2="100.3" stroke="#111" stroke-width="0.9"/>
<text x="220.55" y="108.70" font-size="7.3" text-anchor="middle" textLength="13.3" lengthAdjust="spacingAndGlyphs" fill="#1a1a1a" stroke="#1a1a1a" stroke-width="0.22">150</text>
<path d="M328.6,20.3 V96.6 H509.8" fill="none" stroke="#111" stroke-width="1.05"/>
<line x1="325.3" y1="25.00" x2="328.6" y2="25.00" stroke="#111" stroke-width="0.9"/>
<text x="322.2" y="27.85" font-size="7.9" text-anchor="end" textLength="15.0" lengthAdjust="spacingAndGlyphs" fill="#1a1a1a" stroke="#1a1a1a" stroke-width="0.28">1.00</text>
<line x1="325.3" y1="42.27" x2="328.6" y2="42.27" stroke="#111" stroke-width="0.9"/>
<text x="322.2" y="45.12" font-size="7.9" text-anchor="end" textLength="15.0" lengthAdjust="spacingAndGlyphs" fill="#1a1a1a" stroke="#1a1a1a" stroke-width="0.28">0.75</text>
<line x1="325.3" y1="59.55" x2="328.6" y2="59.55" stroke="#111" stroke-width="0.9"/>
<text x="322.2" y="62.40" font-size="7.9" text-anchor="end" textLength="15.0" lengthAdjust="spacingAndGlyphs" fill="#1a1a1a" stroke="#1a1a1a" stroke-width="0.28">0.50</text>
<line x1="325.3" y1="76.82" x2="328.6" y2="76.82" stroke="#111" stroke-width="0.9"/>
<text x="322.2" y="79.67" font-size="7.9" text-anchor="end" textLength="15.0" lengthAdjust="spacingAndGlyphs" fill="#1a1a1a" stroke="#1a1a1a" stroke-width="0.28">0.25</text>
<line x1="325.3" y1="94.10" x2="328.6" y2="94.10" stroke="#111" stroke-width="0.9"/>
<text x="322.2" y="96.95" font-size="7.9" text-anchor="end" textLength="15.0" lengthAdjust="spacingAndGlyphs" fill="#1a1a1a" stroke="#1a1a1a" stroke-width="0.28">0.00</text>
<line x1="336.4" y1="96.6" x2="336.4" y2="100.3" stroke="#111" stroke-width="0.9"/>
<text x="336.60" y="108.60" font-size="7.3" text-anchor="middle" textLength="4.6" lengthAdjust="spacingAndGlyphs" fill="#1a1a1a" stroke="#1a1a1a" stroke-width="0.22">0</text>
<line x1="378.2" y1="96.6" x2="378.2" y2="100.3" stroke="#111" stroke-width="0.9"/>
<text x="378.40" y="108.60" font-size="7.3" text-anchor="middle" textLength="9.2" lengthAdjust="spacingAndGlyphs" fill="#1a1a1a" stroke="#1a1a1a" stroke-width="0.22">30</text>
<line x1="420.0" y1="96.6" x2="420.0" y2="100.3" stroke="#111" stroke-width="0.9"/>
<text x="420.20" y="108.60" font-size="7.3" text-anchor="middle" textLength="9.2" lengthAdjust="spacingAndGlyphs" fill="#1a1a1a" stroke="#1a1a1a" stroke-width="0.22">60</text>
<line x1="461.7" y1="96.6" x2="461.7" y2="100.3" stroke="#111" stroke-width="0.9"/>
<text x="461.90" y="108.60" font-size="7.3" text-anchor="middle" textLength="9.2" lengthAdjust="spacingAndGlyphs" fill="#1a1a1a" stroke="#1a1a1a" stroke-width="0.22">90</text>
<line x1="503.4" y1="96.6" x2="503.4" y2="100.3" stroke="#111" stroke-width="0.9"/>
<text x="503.60" y="108.60" font-size="7.3" text-anchor="middle" textLength="13.3" lengthAdjust="spacingAndGlyphs" fill="#1a1a1a" stroke="#1a1a1a" stroke-width="0.22">120</text>
<path d="M49.3,163.4 V239.6 H230.4" fill="none" stroke="#111" stroke-width="1.05"/>
<line x1="46.0" y1="167.80" x2="49.3" y2="167.80" stroke="#111" stroke-width="0.9"/>
<text x="43.2" y="170.65" font-size="7.9" text-anchor="end" textLength="15.0" lengthAdjust="spacingAndGlyphs" fill="#1a1a1a" stroke="#1a1a1a" stroke-width="0.28">1.00</text>
<line x1="46.0" y1="185.12" x2="49.3" y2="185.12" stroke="#111" stroke-width="0.9"/>
<text x="43.2" y="187.97" font-size="7.9" text-anchor="end" textLength="15.0" lengthAdjust="spacingAndGlyphs" fill="#1a1a1a" stroke="#1a1a1a" stroke-width="0.28">0.75</text>
<line x1="46.0" y1="202.45" x2="49.3" y2="202.45" stroke="#111" stroke-width="0.9"/>
<text x="43.2" y="205.30" font-size="7.9" text-anchor="end" textLength="15.0" lengthAdjust="spacingAndGlyphs" fill="#1a1a1a" stroke="#1a1a1a" stroke-width="0.28">0.50</text>
<line x1="46.0" y1="219.78" x2="49.3" y2="219.78" stroke="#111" stroke-width="0.9"/>
<text x="43.2" y="222.62" font-size="7.9" text-anchor="end" textLength="15.0" lengthAdjust="spacingAndGlyphs" fill="#1a1a1a" stroke="#1a1a1a" stroke-width="0.28">0.25</text>
<line x1="46.0" y1="237.10" x2="49.3" y2="237.10" stroke="#111" stroke-width="0.9"/>
<text x="43.2" y="239.95" font-size="7.9" text-anchor="end" textLength="15.0" lengthAdjust="spacingAndGlyphs" fill="#1a1a1a" stroke="#1a1a1a" stroke-width="0.28">0.00</text>
<line x1="56.9" y1="239.6" x2="56.9" y2="243.29999999999998" stroke="#111" stroke-width="0.9"/>
<text x="57.10" y="251.60" font-size="7.3" text-anchor="middle" textLength="4.6" lengthAdjust="spacingAndGlyphs" fill="#1a1a1a" stroke="#1a1a1a" stroke-width="0.22">0</text>
<line x1="112.5" y1="239.6" x2="112.5" y2="243.29999999999998" stroke="#111" stroke-width="0.9"/>
<text x="112.70" y="251.60" font-size="7.3" text-anchor="middle" textLength="9.2" lengthAdjust="spacingAndGlyphs" fill="#1a1a1a" stroke="#1a1a1a" stroke-width="0.22">50</text>
<line x1="168.1" y1="239.6" x2="168.1" y2="243.29999999999998" stroke="#111" stroke-width="0.9"/>
<text x="168.30" y="251.60" font-size="7.3" text-anchor="middle" textLength="13.3" lengthAdjust="spacingAndGlyphs" fill="#1a1a1a" stroke="#1a1a1a" stroke-width="0.22">100</text>
<line x1="223.7" y1="239.6" x2="223.7" y2="243.29999999999998" stroke="#111" stroke-width="0.9"/>
<text x="223.90" y="251.60" font-size="7.3" text-anchor="middle" textLength="13.3" lengthAdjust="spacingAndGlyphs" fill="#1a1a1a" stroke="#1a1a1a" stroke-width="0.22">150</text>
<path d="M329.6,163.8 V240.0 H511.0" fill="none" stroke="#111" stroke-width="1.05"/>
<line x1="326.3" y1="168.00" x2="329.6" y2="168.00" stroke="#111" stroke-width="0.9"/>
<text x="323.4" y="170.85" font-size="7.9" text-anchor="end" textLength="15.0" lengthAdjust="spacingAndGlyphs" fill="#1a1a1a" stroke="#1a1a1a" stroke-width="0.28">1.00</text>
<line x1="326.3" y1="185.40" x2="329.6" y2="185.40" stroke="#111" stroke-width="0.9"/>
<text x="323.4" y="188.25" font-size="7.9" text-anchor="end" textLength="15.0" lengthAdjust="spacingAndGlyphs" fill="#1a1a1a" stroke="#1a1a1a" stroke-width="0.28">0.75</text>
<line x1="326.3" y1="202.80" x2="329.6" y2="202.80" stroke="#111" stroke-width="0.9"/>
<text x="323.4" y="205.65" font-size="7.9" text-anchor="end" textLength="15.0" lengthAdjust="spacingAndGlyphs" fill="#1a1a1a" stroke="#1a1a1a" stroke-width="0.28">0.50</text>
<line x1="326.3" y1="220.20" x2="329.6" y2="220.20" stroke="#111" stroke-width="0.9"/>
<text x="323.4" y="223.05" font-size="7.9" text-anchor="end" textLength="15.0" lengthAdjust="spacingAndGlyphs" fill="#1a1a1a" stroke="#1a1a1a" stroke-width="0.28">0.25</text>
<line x1="326.3" y1="237.60" x2="329.6" y2="237.60" stroke="#111" stroke-width="0.9"/>
<text x="323.4" y="240.45" font-size="7.9" text-anchor="end" textLength="15.0" lengthAdjust="spacingAndGlyphs" fill="#1a1a1a" stroke="#1a1a1a" stroke-width="0.28">0.00</text>
<line x1="337.7" y1="240.0" x2="337.7" y2="243.7" stroke="#111" stroke-width="0.9"/>
<text x="337.90" y="252.10" font-size="7.3" text-anchor="middle" textLength="4.6" lengthAdjust="spacingAndGlyphs" fill="#1a1a1a" stroke="#1a1a1a" stroke-width="0.22">0</text>
<line x1="393.3" y1="240.0" x2="393.3" y2="243.7" stroke="#111" stroke-width="0.9"/>
<text x="393.50" y="252.10" font-size="7.3" text-anchor="middle" textLength="9.2" lengthAdjust="spacingAndGlyphs" fill="#1a1a1a" stroke="#1a1a1a" stroke-width="0.22">50</text>
<line x1="448.9" y1="240.0" x2="448.9" y2="243.7" stroke="#111" stroke-width="0.9"/>
<text x="449.10" y="252.10" font-size="7.3" text-anchor="middle" textLength="13.3" lengthAdjust="spacingAndGlyphs" fill="#1a1a1a" stroke="#1a1a1a" stroke-width="0.22">100</text>
<line x1="504.4" y1="240.0" x2="504.4" y2="243.7" stroke="#111" stroke-width="0.9"/>
<text x="504.60" y="252.10" font-size="7.3" text-anchor="middle" textLength="13.3" lengthAdjust="spacingAndGlyphs" fill="#1a1a1a" stroke="#1a1a1a" stroke-width="0.22">150</text>
<text transform="translate(20.0,58.45) rotate(-90)" font-size="9.2" text-anchor="middle" textLength="59.6" lengthAdjust="spacingAndGlyphs" fill="#1a1a1a" stroke="#1a1a1a" stroke-width="0.4">Probability of survival</text>
<text transform="translate(301.4,57.9) rotate(-90)" font-size="9.2" text-anchor="middle" textLength="59.6" lengthAdjust="spacingAndGlyphs" fill="#1a1a1a" stroke="#1a1a1a" stroke-width="0.4">Probability of survival</text>
<text transform="translate(22.0,201.3) rotate(-90)" font-size="9.2" text-anchor="middle" textLength="59.6" lengthAdjust="spacingAndGlyphs" fill="#1a1a1a" stroke="#1a1a1a" stroke-width="0.4">Probability of survival</text>
<text transform="translate(302.0,201.6) rotate(-90)" font-size="9.2" text-anchor="middle" textLength="59.6" lengthAdjust="spacingAndGlyphs" fill="#1a1a1a" stroke="#1a1a1a" stroke-width="0.4">Probability of survival</text>
<text x="6.3" y="15.9" font-size="11.6" text-anchor="start" font-weight="bold" fill="#000" stroke="#000" stroke-width="0.22">F</text>
<text x="5.9" y="162.7" font-size="11.6" text-anchor="start" font-weight="bold" fill="#000" stroke="#000" stroke-width="0.22">G</text>
<line x1="145.3" y1="10.6" x2="171.6" y2="10.6" stroke="#3d8fd4" stroke-width="1.1"/>
<text x="177.6" y="12.6" font-size="7.3" text-anchor="start" textLength="69.2" lengthAdjust="spacingAndGlyphs" fill="#1a1a1a" stroke="#1a1a1a" stroke-width="0.22">Uncompensated TET3</text>
<line x1="262" y1="10.6" x2="288.2" y2="10.6" stroke="#E5B52A" stroke-width="1.2"/>
<text x="291.9" y="12.7" font-size="7.3" text-anchor="start" textLength="61.8" lengthAdjust="spacingAndGlyphs" fill="#1a1a1a" stroke="#1a1a1a" stroke-width="0.22">Compensated TET3</text>
<text x="113.6" y="29.9" font-size="7.2" text-anchor="start" textLength="94.6" lengthAdjust="spacingAndGlyphs" fill="#1a1a1a" stroke="#1a1a1a" stroke-width="0.22">HR=0.56 [95%CI, 0.32&#8211;0.98]</text>
<text x="393.6" y="30.5" font-size="7.2" text-anchor="start" textLength="93.6" lengthAdjust="spacingAndGlyphs" fill="#1a1a1a" stroke="#1a1a1a" stroke-width="0.22">HR=0.57 [95%CI, 0.42&#8211;0.75]</text>
<text x="115.2" y="174.4" font-size="7.2" text-anchor="start" textLength="94.0" lengthAdjust="spacingAndGlyphs" fill="#1a1a1a" stroke="#1a1a1a" stroke-width="0.22">HR=0.55 [95%CI, 0.36&#8211;0.86]</text>
<text x="388.6" y="174.8" font-size="7.2" text-anchor="start" textLength="93.9" lengthAdjust="spacingAndGlyphs" fill="#1a1a1a" stroke="#1a1a1a" stroke-width="0.22">HR=0.57 [95%CI, 0.40&#8211;0.80]</text>
<text x="58.5" y="82.5" font-size="7.1" text-anchor="start" textLength="34.0" lengthAdjust="spacingAndGlyphs" fill="#1a1a1a" stroke="#1a1a1a" stroke-width="0.22">p &lt; 0.0001</text>
<text x="340.8" y="82.3" font-size="7.1" text-anchor="start" textLength="32.0" lengthAdjust="spacingAndGlyphs" fill="#1a1a1a" stroke="#1a1a1a" stroke-width="0.22">p = 0.043</text>
<text x="59.5" y="226.1" font-size="7.1" text-anchor="start" textLength="34.6" lengthAdjust="spacingAndGlyphs" fill="#1a1a1a" stroke="#1a1a1a" stroke-width="0.22">p = 0.0073</text>
<text x="338.5" y="226.3" font-size="7.1" text-anchor="start" textLength="40.0" lengthAdjust="spacingAndGlyphs" fill="#1a1a1a" stroke="#1a1a1a" stroke-width="0.22">p = 0.00098</text>
<text x="106.3" y="119.6" font-size="8.9" text-anchor="start" textLength="63.9" lengthAdjust="spacingAndGlyphs" fill="#1a1a1a" stroke="#1a1a1a" stroke-width="0.45">Months after diagnosis</text>
<text x="387.3" y="119.7" font-size="8.9" text-anchor="start" textLength="64.1" lengthAdjust="spacingAndGlyphs" fill="#1a1a1a" stroke="#1a1a1a" stroke-width="0.45">Months after diagnosis</text>
<text x="107.9" y="262.9" font-size="8.9" text-anchor="start" textLength="64.3" lengthAdjust="spacingAndGlyphs" fill="#1a1a1a" stroke="#1a1a1a" stroke-width="0.45">Months after diagnosis</text>
<text x="388.5" y="262.1" font-size="8.9" text-anchor="start" textLength="64.0" lengthAdjust="spacingAndGlyphs" fill="#1a1a1a" stroke="#1a1a1a" stroke-width="0.45">Months after diagnosis</text>
<text x="134.1" y="128.1" font-size="6.5" text-anchor="start" textLength="7.8" lengthAdjust="spacingAndGlyphs" fill="#1a1a1a" stroke="#1a1a1a" stroke-width="0.22">ALL</text>
<text x="409.5" y="128.3" font-size="6.5" fill="#1a1a1a" stroke="#1a1a1a" stroke-width="0.22"><tspan font-style="italic" textLength="11.4" lengthAdjust="spacingAndGlyphs">TET2</tspan><tspan dx="1.3" textLength="6.2" lengthAdjust="spacingAndGlyphs">MT</tspan></text>
<text x="107.2" y="272.8" font-size="6.3" text-anchor="start" textLength="53.5" lengthAdjust="spacingAndGlyphs" fill="#1a1a1a" stroke="#1a1a1a" stroke-width="0.22">WT low TET2 expressors</text>
<text x="426.2" y="270.9" font-size="6.5" text-anchor="start" textLength="7.0" lengthAdjust="spacingAndGlyphs" fill="#1a1a1a" stroke="#1a1a1a" stroke-width="0.22">WT</text>
<text x="47.6" y="128.6" font-size="6.3" text-anchor="start" textLength="32.9" lengthAdjust="spacingAndGlyphs" fill="#1a1a1a" stroke="#1a1a1a" stroke-width="0.22">Number at risk</text>
<text x="329.1" y="128.8" font-size="6.3" text-anchor="start" textLength="32.5" lengthAdjust="spacingAndGlyphs" fill="#1a1a1a" stroke="#1a1a1a" stroke-width="0.22">Number at risk</text>
<text x="49.1" y="273.1" font-size="6.3" text-anchor="start" textLength="32.7" lengthAdjust="spacingAndGlyphs" fill="#1a1a1a" stroke="#1a1a1a" stroke-width="0.22">Number at risk</text>
<text x="330.0" y="270.9" font-size="6.3" text-anchor="start" textLength="32.8" lengthAdjust="spacingAndGlyphs" fill="#1a1a1a" stroke="#1a1a1a" stroke-width="0.22">Number at risk</text>
<rect x="43.7" y="135.3" width="4.5" height="4.6" fill="#F7DC8C"/>
<rect x="43.7" y="144.0" width="4.5" height="4.6" fill="#9CC6EA"/>
<rect x="325.5" y="135.3" width="4.5" height="4.6" fill="#F7DC8C"/>
<rect x="325.5" y="143.7" width="4.5" height="4.6" fill="#9CC6EA"/>
<rect x="43.5" y="277.7" width="4.5" height="4.6" fill="#F7DC8C"/>
<rect x="43.5" y="286.1" width="4.5" height="4.6" fill="#9CC6EA"/>
<rect x="325.5" y="276.9" width="4.5" height="4.6" fill="#F7DC8C"/>
<rect x="325.5" y="285.6" width="4.5" height="4.6" fill="#9CC6EA"/>
<text x="50.5" y="139.8" font-size="7.0" text-anchor="start" textLength="13.0" lengthAdjust="spacingAndGlyphs" fill="#1a1a1a" stroke="#1a1a1a" stroke-width="0.22">223</text>
<text x="107.2" y="139.8" font-size="7.0" text-anchor="start" textLength="6.9" lengthAdjust="spacingAndGlyphs" fill="#1a1a1a" stroke="#1a1a1a" stroke-width="0.22">71</text>
<text x="163.0" y="139.8" font-size="7.0" text-anchor="start" textLength="3.6" lengthAdjust="spacingAndGlyphs" fill="#1a1a1a" stroke="#1a1a1a" stroke-width="0.22">7</text>
<text x="218.2" y="139.8" font-size="7.0" text-anchor="start" textLength="3.9" lengthAdjust="spacingAndGlyphs" fill="#1a1a1a" stroke="#1a1a1a" stroke-width="0.22">0</text>
<text x="50.5" y="148.4" font-size="7.0" text-anchor="start" textLength="13.0" lengthAdjust="spacingAndGlyphs" fill="#1a1a1a" stroke="#1a1a1a" stroke-width="0.22">260</text>
<text x="106.0" y="148.4" font-size="7.0" text-anchor="start" textLength="10.6" lengthAdjust="spacingAndGlyphs" fill="#1a1a1a" stroke="#1a1a1a" stroke-width="0.22">119</text>
<text x="161.1" y="148.4" font-size="7.0" text-anchor="start" textLength="8.1" lengthAdjust="spacingAndGlyphs" fill="#1a1a1a" stroke="#1a1a1a" stroke-width="0.22">19</text>
<text x="218.2" y="148.4" font-size="7.0" text-anchor="start" textLength="3.9" lengthAdjust="spacingAndGlyphs" fill="#1a1a1a" stroke="#1a1a1a" stroke-width="0.22">0</text>
<text x="331.6" y="140.1" font-size="7.0" text-anchor="start" textLength="8.5" lengthAdjust="spacingAndGlyphs" fill="#1a1a1a" stroke="#1a1a1a" stroke-width="0.22">68</text>
<text x="374.4" y="140.1" font-size="7.0" text-anchor="start" textLength="7.8" lengthAdjust="spacingAndGlyphs" fill="#1a1a1a" stroke="#1a1a1a" stroke-width="0.22">37</text>
<text x="415.4" y="139.7" font-size="7.0" text-anchor="start" textLength="7.7" lengthAdjust="spacingAndGlyphs" fill="#1a1a1a" stroke="#1a1a1a" stroke-width="0.22">15</text>
<text x="459.9" y="139.7" font-size="7.0" text-anchor="start" textLength="3.7" lengthAdjust="spacingAndGlyphs" fill="#1a1a1a" stroke="#1a1a1a" stroke-width="0.22">3</text>
<text x="499.2" y="139.7" font-size="7.0" text-anchor="start" textLength="4.1" lengthAdjust="spacingAndGlyphs" fill="#1a1a1a" stroke="#1a1a1a" stroke-width="0.22">0</text>
<text x="331.6" y="148.3" font-size="7.0" text-anchor="start" textLength="8.5" lengthAdjust="spacingAndGlyphs" fill="#1a1a1a" stroke="#1a1a1a" stroke-width="0.22">66</text>
<text x="374.4" y="148.3" font-size="7.0" text-anchor="start" textLength="7.8" lengthAdjust="spacingAndGlyphs" fill="#1a1a1a" stroke="#1a1a1a" stroke-width="0.22">39</text>
<text x="415.4" y="147.8" font-size="7.0" text-anchor="start" textLength="7.7" lengthAdjust="spacingAndGlyphs" fill="#1a1a1a" stroke="#1a1a1a" stroke-width="0.22">24</text>
<text x="459.9" y="147.8" font-size="7.0" text-anchor="start" textLength="3.9" lengthAdjust="spacingAndGlyphs" fill="#1a1a1a" stroke="#1a1a1a" stroke-width="0.22">4</text>
<text x="499.2" y="147.8" font-size="7.0" text-anchor="start" textLength="4.1" lengthAdjust="spacingAndGlyphs" fill="#1a1a1a" stroke="#1a1a1a" stroke-width="0.22">0</text>
<text x="55.0" y="282.4" font-size="7.0" text-anchor="start" textLength="8.1" lengthAdjust="spacingAndGlyphs" fill="#1a1a1a" stroke="#1a1a1a" stroke-width="0.22">87</text>
<text x="108.0" y="282.5" font-size="7.0" text-anchor="start" textLength="9.0" lengthAdjust="spacingAndGlyphs" fill="#1a1a1a" stroke="#1a1a1a" stroke-width="0.22">33</text>
<text x="163.7" y="282.5" font-size="7.0" text-anchor="start" textLength="4.1" lengthAdjust="spacingAndGlyphs" fill="#1a1a1a" stroke="#1a1a1a" stroke-width="0.22">3</text>
<text x="219.2" y="282.5" font-size="7.0" text-anchor="start" textLength="4.7" lengthAdjust="spacingAndGlyphs" fill="#1a1a1a" stroke="#1a1a1a" stroke-width="0.22">0</text>
<text x="53.0" y="291.0" font-size="7.0" text-anchor="start" textLength="12.6" lengthAdjust="spacingAndGlyphs" fill="#1a1a1a" stroke="#1a1a1a" stroke-width="0.22">135</text>
<text x="108.0" y="290.6" font-size="7.0" text-anchor="start" textLength="9.0" lengthAdjust="spacingAndGlyphs" fill="#1a1a1a" stroke="#1a1a1a" stroke-width="0.22">69</text>
<text x="162.6" y="290.6" font-size="7.0" text-anchor="start" textLength="8.2" lengthAdjust="spacingAndGlyphs" fill="#1a1a1a" stroke="#1a1a1a" stroke-width="0.22">10</text>
<text x="219.2" y="290.6" font-size="7.0" text-anchor="start" textLength="4.7" lengthAdjust="spacingAndGlyphs" fill="#1a1a1a" stroke="#1a1a1a" stroke-width="0.22">0</text>
<text x="333.0" y="281.9" font-size="7.0" text-anchor="start" textLength="12.2" lengthAdjust="spacingAndGlyphs" fill="#1a1a1a" stroke="#1a1a1a" stroke-width="0.22">155</text>
<text x="389.3" y="281.5" font-size="7.0" text-anchor="start" textLength="7.4" lengthAdjust="spacingAndGlyphs" fill="#1a1a1a" stroke="#1a1a1a" stroke-width="0.22">51</text>
<text x="445.9" y="281.5" font-size="7.0" text-anchor="start" textLength="4.1" lengthAdjust="spacingAndGlyphs" fill="#1a1a1a" stroke="#1a1a1a" stroke-width="0.22">6</text>
<text x="501.6" y="281.5" font-size="7.0" text-anchor="start" textLength="4.1" lengthAdjust="spacingAndGlyphs" fill="#1a1a1a" stroke="#1a1a1a" stroke-width="0.22">0</text>
<text x="333.0" y="290.7" font-size="7.0" text-anchor="start" textLength="12.2" lengthAdjust="spacingAndGlyphs" fill="#1a1a1a" stroke="#1a1a1a" stroke-width="0.22">194</text>
<text x="389.3" y="290.2" font-size="7.0" text-anchor="start" textLength="8.2" lengthAdjust="spacingAndGlyphs" fill="#1a1a1a" stroke="#1a1a1a" stroke-width="0.22">92</text>
<text x="444.5" y="290.2" font-size="7.0" text-anchor="start" textLength="7.7" lengthAdjust="spacingAndGlyphs" fill="#1a1a1a" stroke="#1a1a1a" stroke-width="0.22">16</text>
<text x="501.6" y="290.2" font-size="7.0" text-anchor="start" textLength="4.1" lengthAdjust="spacingAndGlyphs" fill="#1a1a1a" stroke="#1a1a1a" stroke-width="0.22">0</text>
<rect x="0" y="0" width="520" height="1.3" fill="#000"/>
<rect x="0" y="0" width="1.35" height="298" fill="#000"/>
<rect x="518.75" y="0" width="1.25" height="298" fill="#000"/>
<rect x="0" y="296.6" width="520" height="1.4" fill="#000"/>
</g></svg>
</body></html>
